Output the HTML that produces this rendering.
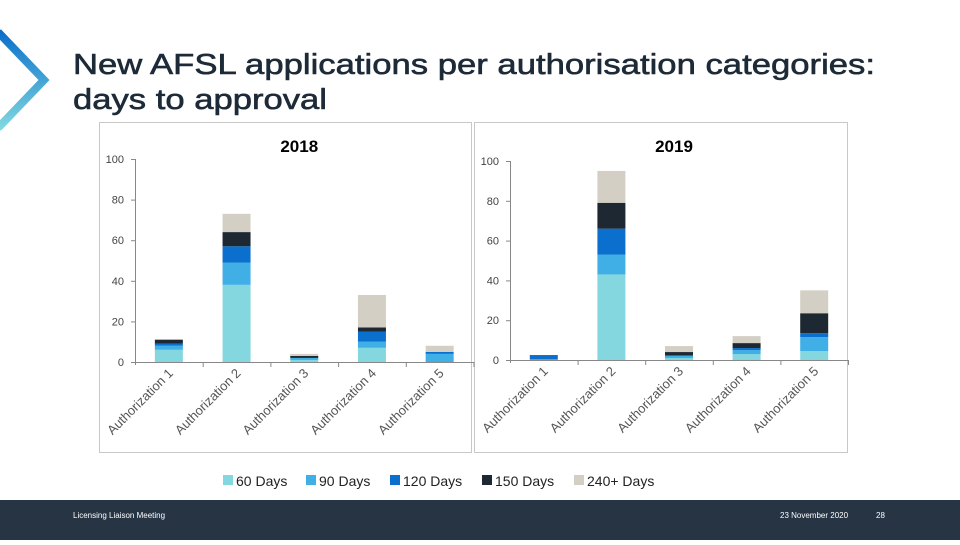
<!DOCTYPE html>
<html><head><meta charset="utf-8"><style>
body{margin:0;width:960px;height:540px;overflow:hidden;background:#fff;font-family:"Liberation Sans",sans-serif}
</style></head><body>
<svg id="s" width="960" height="540" viewBox="0 0 960 540" xmlns="http://www.w3.org/2000/svg">
<defs><linearGradient id="g" x1="0" y1="0" x2="0" y2="1"><stop offset="0" stop-color="#0a6fcb"/><stop offset="1" stop-color="#7fd8e0"/></linearGradient></defs>
<polyline points="-2,32 44,80 -2,128" fill="none" stroke="url(#g)" stroke-width="8"/>
<text x="73" y="74" font-size="29" fill="#1d2a38" stroke="#1d2a38" stroke-width="0.6" textLength="802" lengthAdjust="spacingAndGlyphs">New AFSL applications per authorisation categories:</text>
<text x="73" y="109" font-size="29" fill="#1d2a38" stroke="#1d2a38" stroke-width="0.6" textLength="254" lengthAdjust="spacingAndGlyphs">days to approval</text>
<rect x="99.5" y="122.5" width="372" height="330" fill="#fff" stroke="#c8c8c8"/>
<rect x="474.5" y="122.5" width="373" height="330" fill="#fff" stroke="#c8c8c8"/>
<g id="charts"></g>
<g id="legend"></g>
<rect x="0" y="500" width="960" height="40" fill="#263444"/>
<text x="73" y="518" font-size="8" fill="#fff">Licensing Liaison Meeting</text>
<text x="780" y="518" font-size="8" fill="#fff">23 November 2020</text>
<text x="876" y="518" font-size="8" fill="#fff">28</text>
</svg>
<script>
const categories=["Authorization 1","Authorization 2","Authorization 3","Authorization 4","Authorization 5"];
const seriesNames=["60 Days","90 Days","120 Days","150 Days","240+ Days"];
const colors=["#84d7de","#3fafe6","#0b6fce","#1e2832","#d4cfc4"];
const yTicks=[0,20,40,60,80,100];
const d2018_60=[6,38,1,7,0];
const d2018_90=[2,11,1,3,4];
const d2018_120=[1,8,0,5,1];
const d2018_150=[2,7,1,2,0];
const d2018_240=[0,9,1,16,3];
const d2019_60=[0,43,1,3,4.5];
const d2019_90=[0.5,10,1,2,7];
const d2019_120=[2,13,0.5,1,2];
const d2019_150=[0,13,1.5,2.5,10];
const d2019_240=[0,16,3,3.5,11.5];
const NS="http://www.w3.org/2000/svg";
function mk(t,a,p){const e=document.createElementNS(NS,t);for(const k in a)e.setAttribute(k,a[k]);p.appendChild(e);return e;}
const G=document.getElementById('charts');
function chart(title,x0,y0,y100,step,series,tag){
  const g=mk('g',{},G);
  
  
  const y=v=>y0-(y0-y100)*v/100;
  const t=mk('text',{x:x0+step*2.5-5,y:152,'font-size':17,'font-weight':'bold','text-anchor':'middle',fill:'#000'},g);
  t.textContent=title;
  
  
  const ax=mk('line',{x1:x0+0.5,y1:y100,x2:x0+0.5,y2:y0+3,stroke:'#888'},g);
  
  
  yTicks.forEach(v=>{
    mk('line',{x1:x0-4,x2:x0,y1:y(v)+0.5,y2:y(v)+0.5,stroke:'#888'},g);
    const l=mk('text',{x:x0-11,y:y(v)+4,'font-size':11,'text-anchor':'end',fill:'#444'},g);
    l.textContent=v;
    
    
  });
  const xa=mk('line',{x1:x0,x2:x0+step*5,y1:y0+0.5,y2:y0+0.5,stroke:'#888'},g);
  
  
  categories.forEach((c,i)=>{
    const tx=x0+step*(i+1)+0.5;
    mk('line',{x1:tx,x2:tx,y1:y0,y2:y0+5,stroke:'#888'},g);
    const cx=x0+step*(i+0.5);
    let acc=0;
    series.forEach((s,j)=>{
      const v=s[i];if(v<=0)return;
      const r=mk('rect',{x:cx-14,y:y(acc+v),width:28,height:y(acc)-y(acc+v),fill:colors[j]},g);
      
      
      acc+=v;
    });
    const lab=mk('text',{x:cx+5,y:y0+12,'font-size':13,'text-anchor':'end',fill:'#555',transform:`rotate(-45 ${cx+5} ${y0+12})`},g);
    lab.textContent=c;
    
    
  });
}
chart('2018',135,362,159,67.7,[d2018_60,d2018_90,d2018_120,d2018_150,d2018_240],'2018');
chart('2019',510,360,161,67.6,[d2019_60,d2019_90,d2019_120,d2019_150,d2019_240],'2019');
const L=document.getElementById('legend');
const lx=[223,306,390,482,574];
seriesNames.forEach((n,i)=>{
  const r=mk('rect',{x:lx[i],y:475,width:10,height:10,fill:colors[i]},L);
  
  
  const t=mk('text',{x:lx[i]+13,y:486,'font-size':14,fill:'#222'},L);
  t.textContent=n;
  
  
});
</script>
</body></html>
